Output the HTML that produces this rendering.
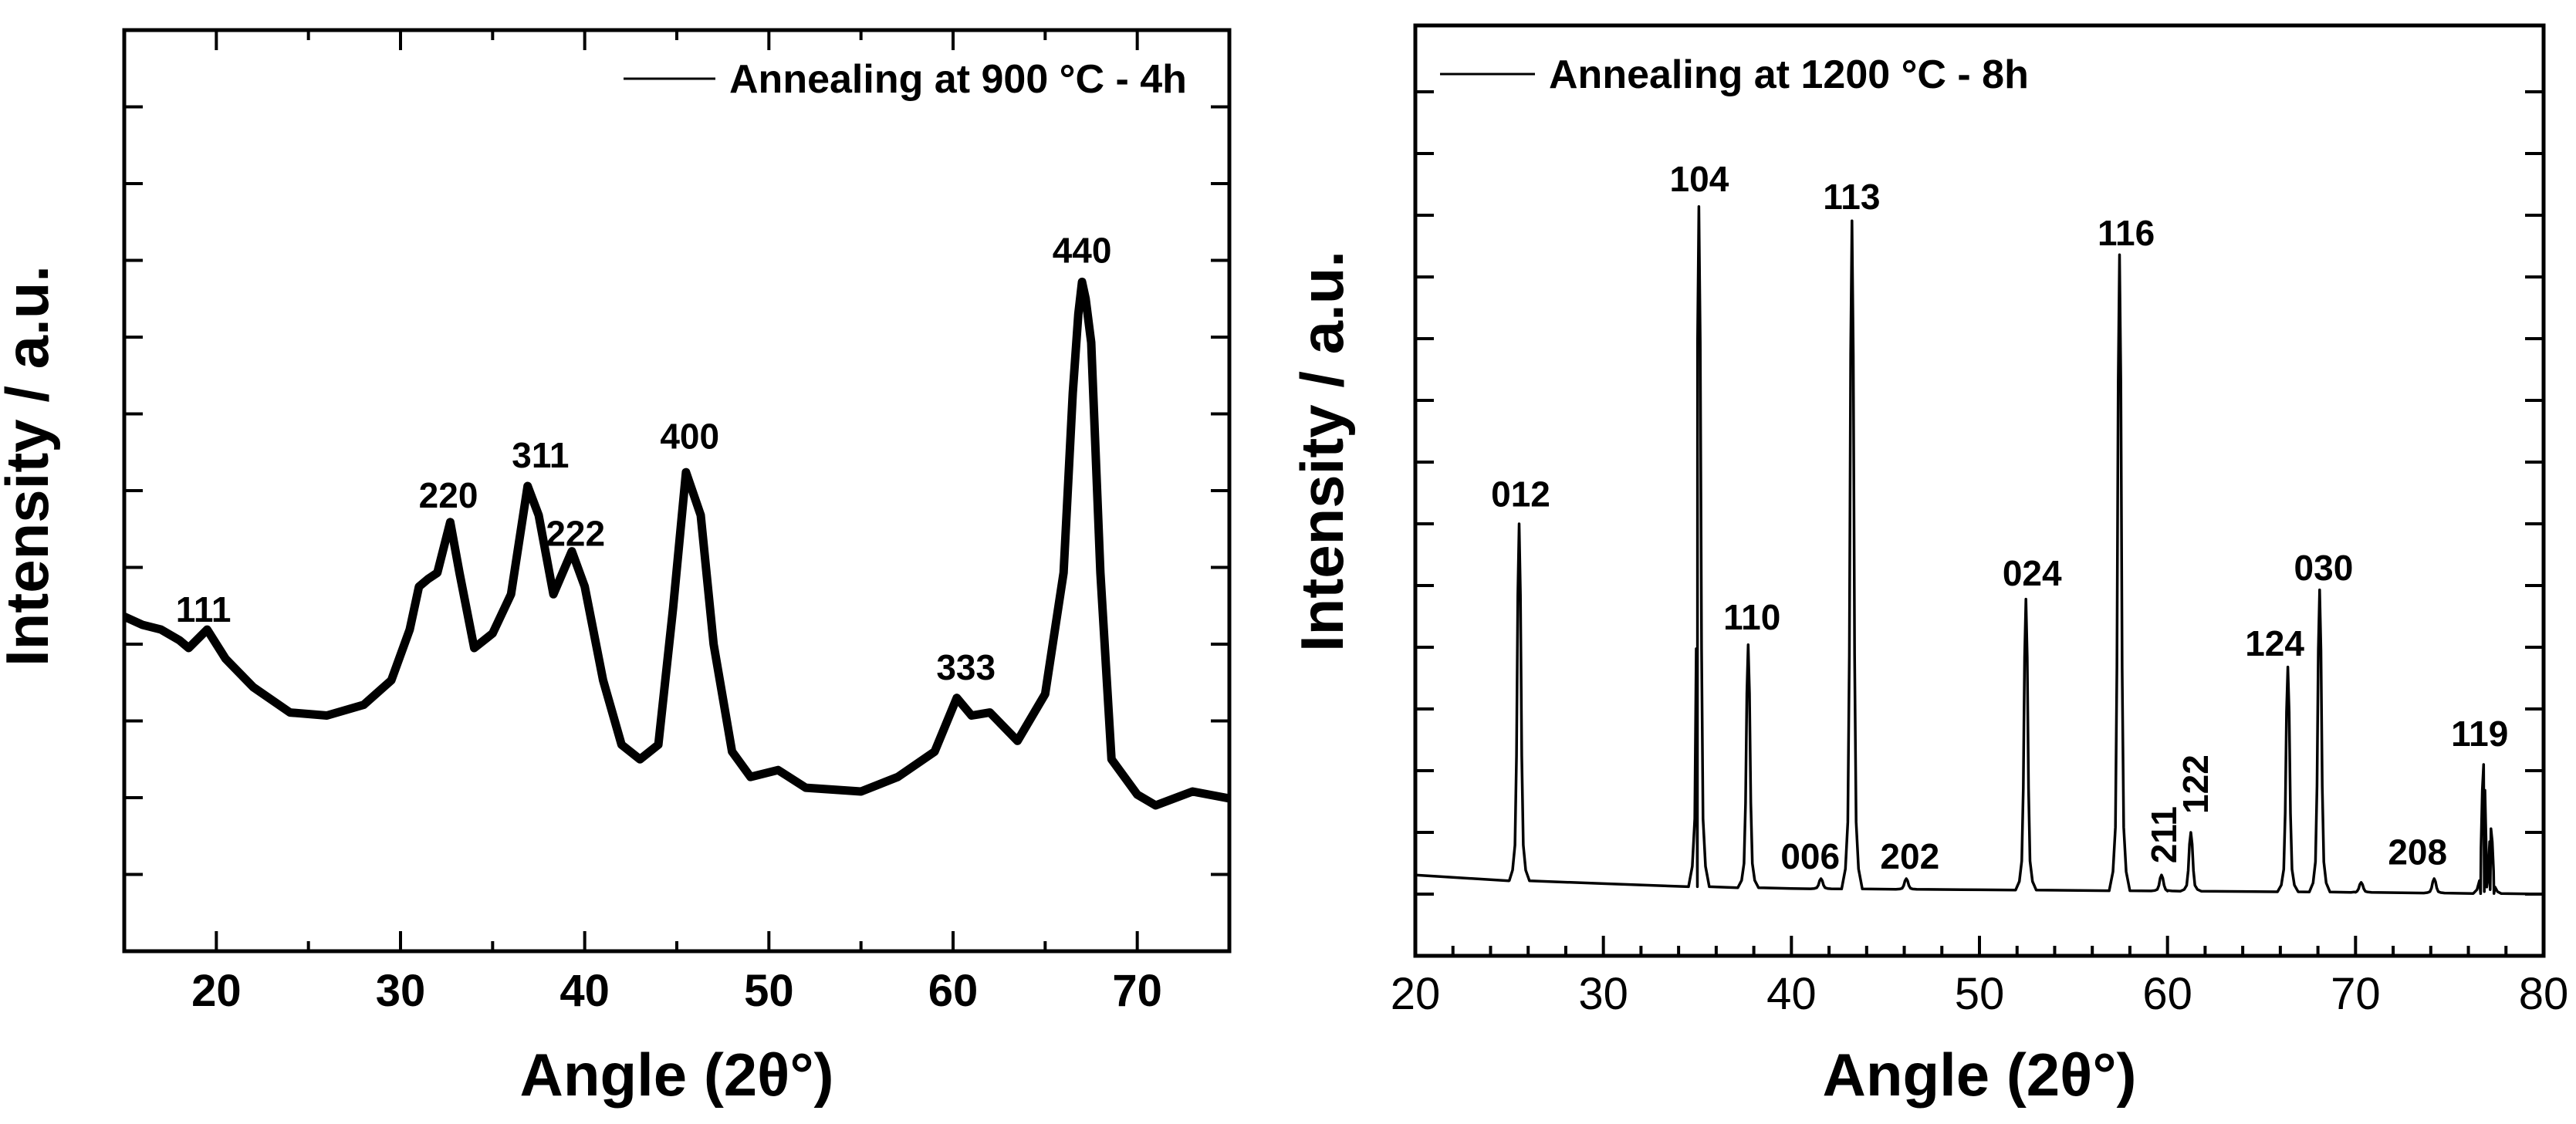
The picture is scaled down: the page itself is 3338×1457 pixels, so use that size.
<!DOCTYPE html>
<html><head><meta charset="utf-8"><style>
html,body{margin:0;padding:0;background:#fff;}
svg{display:block;font-family:"Liberation Sans",Arial,sans-serif;}
</style></head><body>
<svg id="fig" width="3338" height="1457" viewBox="0 0 3338 1457" xmlns="http://www.w3.org/2000/svg">
<g id="left"></g>
<g id="right"></g>
</svg>
<script>
// ---- Left chart data (900 °C - 4h) ----
const leftAngles = [15,16,17,18,18.5,19.5,20.5,22,24,26,28,29.5,30.5,31,31.5,32,32.7,33.2,34,35,36,36.9,37.5,38.3,39.3,40,41,42,43,44,44.8,45.5,46.3,47,48,49,50.5,52,55,57,59,60.2,61,62,63.5,65,66,66.5,66.8,67,67.2,67.5,68,68.6,70,71,73,75];
const leftIntensity = [4.36,4.25,4.19,4.05,3.95,4.19,3.81,3.44,3.11,3.07,3.21,3.53,4.19,4.75,4.85,4.93,5.59,4.93,3.95,4.14,4.65,6.06,5.68,4.65,5.21,4.75,3.53,2.69,2.5,2.69,4.47,6.24,5.68,4.0,2.6,2.27,2.36,2.13,2.08,2.27,2.6,3.3,3.07,3.11,2.74,3.35,4.93,7.27,8.3,8.72,8.5,7.93,4.93,2.5,2.04,1.9,2.08,1.99];
const leftLabels = ["111","220","311","222","400","333","440"];
const leftLabelAngle = [19.3,32.6,37.6,39.5,45.7,60.7,67.0];
const leftLabelY = [4.45,5.94,6.46,5.44,6.71,3.7,9.13];
const leftXTicks = [20,30,40,50,60,70];

// ---- Right chart data (1200 °C - 8h) ----
const baseAngles = [20,25,30,35,40,50,60,70,80];
const baseIntensity = [1.31,1.22,1.17,1.12,1.09,1.07,1.05,1.03,1.0];
const peakAngles = [25.52,35.08,37.7,41.57,43.22,46.11,52.47,57.45,59.68,61.24,66.4,68.09,70.3,74.18,76.81,77.2];
const peakHeights = [7.0,12.14,5.04,1.25,11.91,1.25,5.78,11.36,1.31,2.0,4.68,5.93,1.19,1.25,3.10,2.06];
const rightLabels = ["012","104","110","006","113","202","024","116","211","122","124","030","208","119"];
const rightLabelAngle = [25.6,35.1,37.9,41.0,43.2,46.3,52.8,57.8,59.8,61.5,65.7,68.3,73.3,76.6];
const rightLabelY = [7.48,12.59,5.49,1.61,12.3,1.61,6.2,11.71,1.96,2.78,5.06,6.29,1.68,3.6];
const rightLabelRot = [0,0,0,0,0,0,0,0,-90,-90,0,0,0,0];
const rightXTicks = [20,30,40,50,60,70,80];

const NS = "http://www.w3.org/2000/svg";
function mk(parent, tag, attrs){const e=document.createElementNS(NS,tag);for(const k in attrs)e.setAttribute(k,attrs[k]);parent.appendChild(e);return e;}

function build(g, P, cfg){
  const sx = v => P.x0 + (v - P.xmin)/(P.xmax-P.xmin)*(P.x1-P.x0);
  const sy = v => P.y0 - v*P.unit;
  const fr = mk(g,'rect',{x:P.x0,y:P.y1,width:P.x1-P.x0,height:P.y0-P.y1,fill:'none',stroke:'#000','stroke-width':5});
  
  
  for(let v=P.xmin; v<=P.xmax+1e-9; v+=cfg.minor){
    const major = Math.abs(v/10-Math.round(v/10))<1e-6;
    const L = major?26:13;
    const x = sx(v);
    const t1 = mk(g,'line',{x1:x,x2:x,y1:P.y0,y2:P.y0-L,stroke:'#000','stroke-width':4});
    
    
    if(cfg.topTicks){
      const t2 = mk(g,'line',{x1:x,x2:x,y1:P.y1,y2:P.y1+L,stroke:'#000','stroke-width':4});
      
      
    }
  }
  cfg.xTicks.forEach(v=>{
    const t = mk(g,'text',{x:sx(v),y:P.labY,'text-anchor':'middle','font-size':58,'font-weight':cfg.boldTicks?'bold':'normal',fill:'#000'});
    t.textContent = v;
    
    
  });
  for(let k=1; k<=cfg.nY; k++){
    const y = sy(k);
    const a = mk(g,'line',{x1:P.x0,x2:P.x0+24,y1:y,y2:y,stroke:'#000','stroke-width':4});
    
    
    const b = mk(g,'line',{x1:P.x1,x2:P.x1-24,y1:y,y2:y,stroke:'#000','stroke-width':4});
    
    
  }
  const xt = mk(g,'text',{x:(P.x0+P.x1)/2,y:1420,'text-anchor':'middle','font-size':78,'font-weight':'bold'});
  xt.textContent = 'Angle (2θ°)';
  
  
  const yt = mk(g,'text',{x:0,y:0,'text-anchor':'middle','font-size':78,'font-weight':'bold',transform:`translate(${P.ytx},${P.yty}) rotate(-90)`});
  yt.textContent = 'Intensity / a.u.';
  
  
  const ll = mk(g,'line',{x1:P.legX1,x2:P.legX2,y1:P.legY,y2:P.legY,stroke:'#000','stroke-width':3});
  
  
  const lt = mk(g,'text',{x:P.legX2+18,y:P.legY+18,'font-size':52,'font-weight':'bold'});
  lt.textContent = cfg.legend;
  
  
  return {sx,sy};
}

// LEFT
const PL = {x0:161,x1:1593,y0:1233,y1:39,xmin:15,xmax:75,unit:99.5,labY:1304,ytx:62,yty:604,legX1:808,legX2:927,legY:102};
const gl = document.getElementById('left');
const L = build(gl,PL,{minor:5,topTicks:true,xTicks:leftXTicks,boldTicks:true,nY:11,legend:'Annealing at 900 °C - 4h'});
let dL = leftAngles.map((a,i)=>(i?'L':'M')+L.sx(a).toFixed(1)+','+L.sy(leftIntensity[i]).toFixed(1)).join(' ');
const cl = mk(gl,'path',{d:dL,fill:'none',stroke:'#000','stroke-width':11,'stroke-linejoin':'round'});


leftLabels.forEach((s,i)=>{
  const t = mk(gl,'text',{x:L.sx(leftLabelAngle[i]),y:L.sy(leftLabelY[i])+16,'text-anchor':'middle','font-size':46,'font-weight':'bold'});
  t.textContent = s;
  
  
});

// RIGHT
const PR = {x0:1834,x1:3296,y0:1239,y1:33,xmin:20,xmax:80,unit:80,labY:1308,ytx:1740,yty:585,legX1:1866,legX2:1989,legY:96};
const gr = document.getElementById('right');
const R = build(gr,PR,{minor:2,topTicks:false,xTicks:rightXTicks,boldTicks:false,nY:14,legend:'Annealing at 1200 °C - 8h'});
function baseAt(a){
  for(let i=1;i<baseAngles.length;i++){ if(a<=baseAngles[i]){const f=(a-baseAngles[i-1])/(baseAngles[i]-baseAngles[i-1]);return baseIntensity[i-1]+f*(baseIntensity[i]-baseIntensity[i-1]);} }
  return baseIntensity[baseIntensity.length-1];
}
let pts=[];
baseAngles.forEach(a=>pts.push([a,baseAt(a)]));
peakAngles.forEach((a,i)=>{
  const b=baseAt(a), h=peakHeights[i]-b;
  [[-0.55,0],[-0.35,0.03],[-0.22,0.1],[-0.14,0.35],[-0.07,0.8],[0,1],[0.07,0.8],[0.14,0.35],[0.22,0.1],[0.35,0.03],[0.55,0]].forEach(o=>pts.push([a+o[0],b+h*o[1]]));
});
pts.sort((p,q)=>p[0]-q[0]);
let dR = pts.map((p,i)=>(i?'L':'M')+R.sx(p[0]).toFixed(1)+','+R.sy(p[1]).toFixed(1)).join(' ');
const cr = mk(gr,'path',{d:dR,fill:'none',stroke:'#000','stroke-width':3.5,'stroke-linejoin':'round'});


rightLabels.forEach((s,i)=>{
  const x=R.sx(rightLabelAngle[i]), y=R.sy(rightLabelY[i]);
  const t = mk(gr,'text',{x:0,y:16,'text-anchor':'middle','font-size':46,'font-weight':'bold',transform:`translate(${x.toFixed(1)},${y.toFixed(1)}) rotate(${rightLabelRot[i]})`});
  t.textContent = s;
  
  
});
</script>
</body></html>
